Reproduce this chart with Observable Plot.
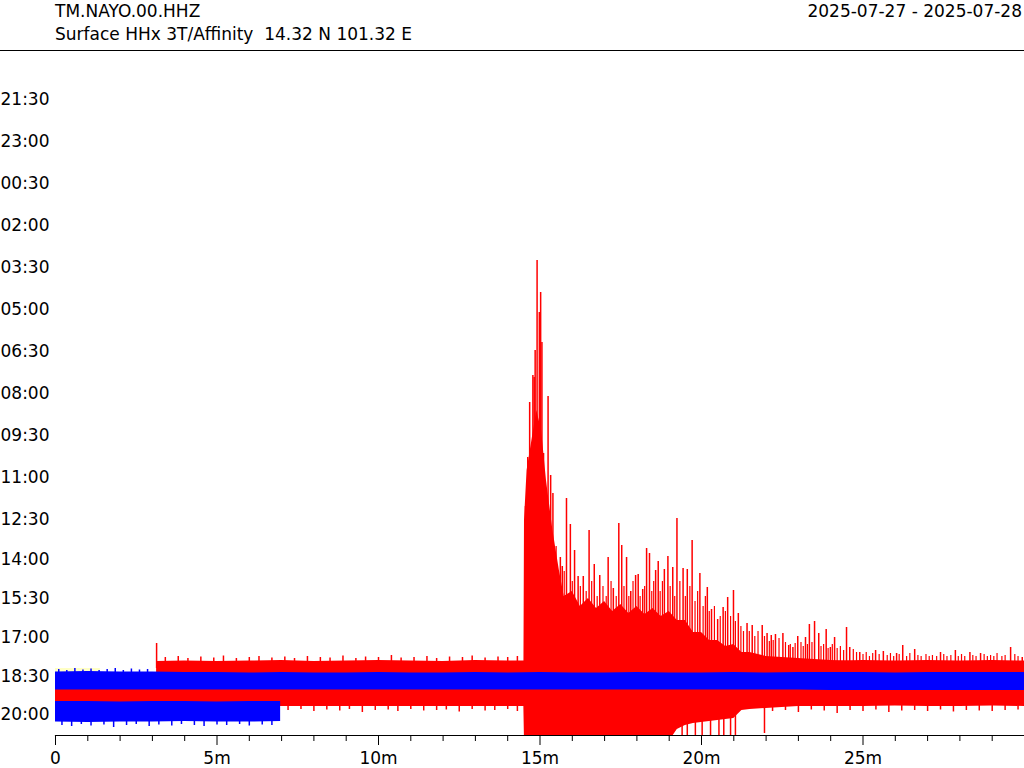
<!DOCTYPE html>
<html><head><meta charset="utf-8">
<script src="https://cdn.jsdelivr.net/npm/d3@7"></script>
<script src="https://cdn.jsdelivr.net/npm/@observablehq/plot@0.6"></script>
<style>
body{margin:0;background:#fff;font-family:"DejaVu Sans",sans-serif;}
#hdr{position:relative;width:1024px;height:50px;border-bottom:1px solid #000;font-size:17px;line-height:17px;color:#000;white-space:pre;}
#hdr span{position:absolute;}
#chart svg{display:block;}
</style></head><body>
<div id="hdr"></div>
<div id="chart"></div>
<script>
// ---------- header texts ----------
const stationCode = "TM.NAYO.00.HHZ";
const stationInfo = "Surface HHx 3T/Affinity  14.32 N 101.32 E";
const dateRange = "2025-07-27 - 2025-07-28";

// ---------- row (time-of-day) labels and their row offsets ----------
const rowLabels = ["21:30","23:00","00:30","02:00","03:30","05:00","06:30","08:00","09:30","11:00","12:30","14:00","15:30","17:00","18:30","20:00"];
const rowOffsets = [0,1,2,3,4,5,6,7,8,9,10,10.95,11.88,12.81,13.74,14.66];

// ---------- x axis (minutes) ----------
const xMajorTicks = [0,5,10,15,20,25];
const xMajorLabels = ["0","5m","10m","15m","20m","25m"];
const xMinorTicks = [1,2,3,4,6,7,8,9,11,12,13,14,16,17,18,19,21,22,23,24,26,27,28,29];

const COUNTS_PER_ROW = 420;

// ---------- trace baselines (row units) ----------
const rowE = 13.626, rowA = 13.555, rowB = 13.864, rowC = 14.221, rowD = 14.579;

// trace E (yellow, short)
const tE  = [0, 1.39];
const hiE = [30, 30];
const loE = [-30, -30];

// trace A (red, upper), starts at 3.13 min
const tA  = [3.13,4,5,6,7,8,9,10,11,12,13,14,15,16,17,18,19,20,21,22,23,24,25,26,27,28,29,30];
const hiA = [70,75,70,75,80,70,75,80,75,70,80,75,75,80,75,70,75,80,75,80,75,70,80,75,80,75,80,75];
const loA = [-80,-80,-80,-80,-80,-80,-80,-80,-80,-80,-80,-80,-80,-80,-80,-80,-80,-80,-80,-80,-80,-80,-80,-80,-80,-80,-80,-80];
const spikeAt   = [3.13,3.4,3.8,4.1,4.5,4.9,5.2,5.6,6.0,6.3,6.7,7.1,7.4,7.8,8.2,8.5,8.9,9.3,9.6,10.0,10.4,10.7,11.1,11.5,11.8,12.2,12.6,12.9,13.3,13.7,14.0,14.3];
const spikeAamp = [250,110,120,100,115,105,125,100,110,120,105,115,100,120,110,105,125,100,115,110,130,105,110,120,100,115,110,125,105,115,110,120];

// trace B (blue, upper)
const tB  = [0,1,2,3,4,5,6,7,8,9,10,11,12,13,14,15,16,17,18,19,20,21,22,23,24,25,26,27,28,29,30];
const hiB = [95,100,95,95,90,90,85,90,85,85,90,85,85,90,85,90,85,85,90,85,85,90,85,90,90,90,85,90,90,90,90];
const loB = [-85,-85,-85,-85,-85,-85,-85,-85,-85,-85,-85,-85,-85,-85,-85,-85,-85,-85,-85,-85,-85,-85,-85,-85,-90,-90,-90,-90,-90,-90,-90];
const spikeBt   = [0.1,0.35,0.6,0.85,1.1,1.35,1.6,1.85,2.1,2.35,2.6,2.85];
const spikeBamp = [120,110,130,115,125,110,120,130,110,125,115,120];

// trace C (red, lower) with the event
const tC  = [0,1,2,3,4,5,6,7,8,9,10,11,12,13,14,14.5,14.52,14.6,14.75,14.9,15.05,15.2,15.4,15.6,15.75,16,16.25,16.5,16.75,17,17.25,17.5,17.75,18,18.25,18.5,18.75,19,19.25,19.5,19.75,20,20.25,20.5,20.75,21,21.25,21.5,22,23,24,25,26,27,28,29,30];
const hiC = [90,90,85,90,90,85,90,90,85,90,90,90,85,90,90,90,1760,2260,2560,2860,2660,2160,1660,1260,1000,1050,900,980,880,950,850,920,830,900,820,880,800,850,760,760,640,640,560,560,500,520,440,440,400,380,360,350,340,345,340,345,340];
const loC = [-90,-90,-90,-90,-95,-100,-100,-100,-100,-100,-100,-100,-100,-100,-100,-100,-450,-450,-450,-450,-450,-450,-450,-450,-450,-450,-450,-450,-450,-450,-450,-450,-450,-450,-450,-450,-450,-450,-330,-290,-270,-260,-250,-240,-230,-220,-140,-130,-120,-100,-100,-100,-95,-100,-100,-95,-100];
const eventT = [14.55,14.62,14.68,14.78,14.82,14.85,14.91,14.98,15.02,15.06,15.11,15.25,15.33,15.40,15.63,15.69,15.82,15.94,16.07,16.18,16.34,16.52,16.68,16.85,17.11,17.27,17.44,17.53,17.68,17.81,17.96,18.04,18.18,18.30,18.39,18.58,18.66,18.85,18.96,19.11,19.24,19.43,19.56,19.71,19.95,20.18,20.31,20.50,20.67,20.81,20.99,21.14,21.41,21.57,21.88,22.03,22.16,22.29,22.52,22.70,22.83,22.98,23.22,23.34,23.50,23.63,23.86,23.99,24.12,24.49,24.59,24.90,25.39,25.63,26.04,26.23,26.60,27.40,27.86,28.31,28.64,29.57,29.93];
const eventUp = [1900,2390,2940,3210,3190,3460,4360,3840,4040,3540,2430,3000,2210,2030,1390,1300,1980,1720,1460,1200,1200,1660,1320,1210,1390,1080,1730,1510,1390,1050,1210,1220,1070,1480,1430,1260,1350,1270,1400,1290,1780,1280,1270,1560,1230,1090,870,770,890,990,1060,830,730,710,710,630,610,620,630,510,490,600,590,720,750,630,670,490,590,690,490,440,460,450,430,510,470,440,460,440,430,490,390];
// smaller coda oscillations [minute, counts]
const codaSpikes = [[15.50,1500],[15.75,1250],[16.00,1150],[16.25,1100],[16.43,1050],[16.60,1150],[16.77,1000],[16.95,1100],[17.05,1000],[17.20,1150],[17.36,1000],[17.60,1100],[17.75,1000],[17.88,1150],[18.10,1000],[18.24,1100],[18.46,1050],[18.52,1150],[18.72,1050],[18.79,1150],[19.03,1100],[19.17,1000],[19.33,1150],[19.50,1000],[19.64,1100],[19.80,950],[19.88,1050],[20.05,900],[20.12,1000],[20.24,850],[20.40,900],[20.58,800],[20.74,850],[20.90,800],[21.05,750],[21.22,700],[21.30,650],[21.48,650],[21.65,600],[21.75,650],[21.95,600],[22.10,550],[22.22,560],[22.40,580],[22.60,540],[22.75,520],[22.90,530],[23.08,540],[23.15,500],[23.28,520],[23.42,540],[23.70,500],[23.78,520],[23.92,480],[24.05,520],[24.20,480],[24.30,500],[24.40,460],[24.70,470],[24.80,440],[25.00,420],[25.10,440],[25.20,400],[25.30,430],[25.50,420],[25.75,410],[25.85,430],[25.95,400],[26.12,420],[26.35,400],[26.45,430],[26.70,410],[26.80,400],[26.95,420],[27.05,400],[27.15,410],[27.28,400],[27.50,420],[27.60,400],[27.72,410],[27.95,400],[28.05,420],[28.15,400],[28.40,410],[28.50,400],[28.75,420],[28.85,400],[28.95,410],[29.05,400],[29.15,430],[29.30,400],[29.40,410],[29.70,420],[29.80,400]];
const eventDownT = [19.40,19.56,19.81,20.02,20.28,20.54,20.69,20.90,21.05,21.95];
const eventDown = [-450,-450,-450,-450,-450,-450,-450,-450,-450,-370];
const spikeCdownT = [7.2,7.6,8.0,8.4,8.8,9.1,9.5,9.9,10.3,10.6,11.0,11.4,11.8,12.1,12.5,12.9,13.3,13.6,14.0,14.3,22.2,22.6,23.0,23.4,23.8,24.2,24.6,25.0,25.4,25.8,26.2,26.6,27.0,27.4,27.8,28.2,28.6,29.0,29.4,29.8];
const spikeCdown  = [-140,-130,-150,-135,-145,-130,-160,-140,-135,-150,-130,-145,-140,-135,-155,-130,-145,-140,-130,-150,-150,-140,-160,-135,-145,-170,-140,-150,-135,-160,-145,-140,-150,-135,-155,-140,-145,-150,-140,-135];

// trace D (blue, lower), ends at ~7 min
const tD  = [0,1,2,3,4,5,6,6.97];
const hiD = [100,100,95,100,100,95,100,100];
const loD = [-105,-110,-105,-105,-100,-105,-105,-100];
const spikeDt   = [0.2,0.5,0.8,1.1,1.5,1.8,2.2,2.5,2.9,3.2,3.6,3.9,4.3,4.6,5.0,5.3,5.7,6.0,6.4,6.7];
const spikeDamp = [-140,-150,-130,-145,-135,-160,-140,-130,-150,-135,-145,-130,-140,-150,-135,-140,-130,-145,-135,-140];

// ---------- header ----------
const hdr = document.getElementById("hdr");
[[stationCode,"left:55px;top:3px"],[stationInfo,"left:55px;top:26px"],[dateRange,"right:2px;top:3px"]].forEach(([t,s])=>{
  const sp = document.createElement("span"); sp.textContent = t; sp.setAttribute("style", s); hdr.appendChild(sp);
});

// ---------- helpers ----------
function band(t, hi, lo, row, fill) {
  const data = t.map((d,i)=>({t:d, hi:hi[i], lo:lo[i]}));
  return Plot.areaY(data, {x:"t", y1:d=>row - d.hi/COUNTS_PER_ROW, y2:d=>row - d.lo/COUNTS_PER_ROW, fill, clip:true});
}
function spikes(t, amp, row, stroke, sw) {
  const data = t.map((d,i)=>({t:d, a:amp[i]}));
  return Plot.ruleX(data, {x:"t", y1:row, y2:d=>row - d.a/COUNTS_PER_ROW, stroke, strokeWidth:sw, clip:true});
}

const RED = "#ff0000", BLUE = "#0000ff", YELLOW = "#ffffc4";

const chart = Plot.plot({
  width: 1024, height: 717,
  marginLeft: 55, marginRight: 0, marginTop: 0, marginBottom: 33,
  x: {domain: [0, 30], label: null},
  y: {domain: [0, 15], range: [47.7, 677.7], axis: null},
  style: {fontFamily: "DejaVu Sans", fontSize: "17px", color: "black", background: "white", overflow: "visible"},
  marks: [
    band(tE, hiE, loE, rowE, YELLOW),
    band(tA, hiA, loA, rowA, RED),
    spikes(spikeAt, spikeAamp, rowA, RED, 1.5),
    band(tC, hiC, loC, rowC, RED),
    spikes(eventT, eventUp, rowC, RED, 1.5),
    spikes(codaSpikes.map(d=>d[0]), codaSpikes.map(d=>d[1]), rowC, RED, 1.2),
    spikes(eventDownT, eventDown, rowC, RED, 1.5),
    spikes(spikeCdownT, spikeCdown, rowC, RED, 1.5),
    band(tD, hiD, loD, rowD, BLUE),
    spikes(spikeDt, spikeDamp, rowD, BLUE, 1.5),
    band(tB, hiB, loB, rowB, BLUE),
    spikes(spikeBt, spikeBamp, rowB, BLUE, 1.5),
    Plot.frame({anchor: "bottom", stroke: "black", strokeWidth: 1.2}),
    Plot.axisX(xMinorTicks, {tickSize: 6, tickFormat: () => "", label: null}),
    Plot.axisX(xMajorTicks, {tickSize: 10, tickPadding: 6, fontSize: 17, label: null,
      tickFormat: d => xMajorLabels[xMajorTicks.indexOf(d)]}),
    Plot.text(rowLabels, {y: (d,i) => rowOffsets[i], text: d => d, frameAnchor: "left", textAnchor: "start", dx: -55, fontSize: 17, fill: "black"})
  ]
});
document.getElementById("chart").appendChild(chart);
</script>
</body></html>
